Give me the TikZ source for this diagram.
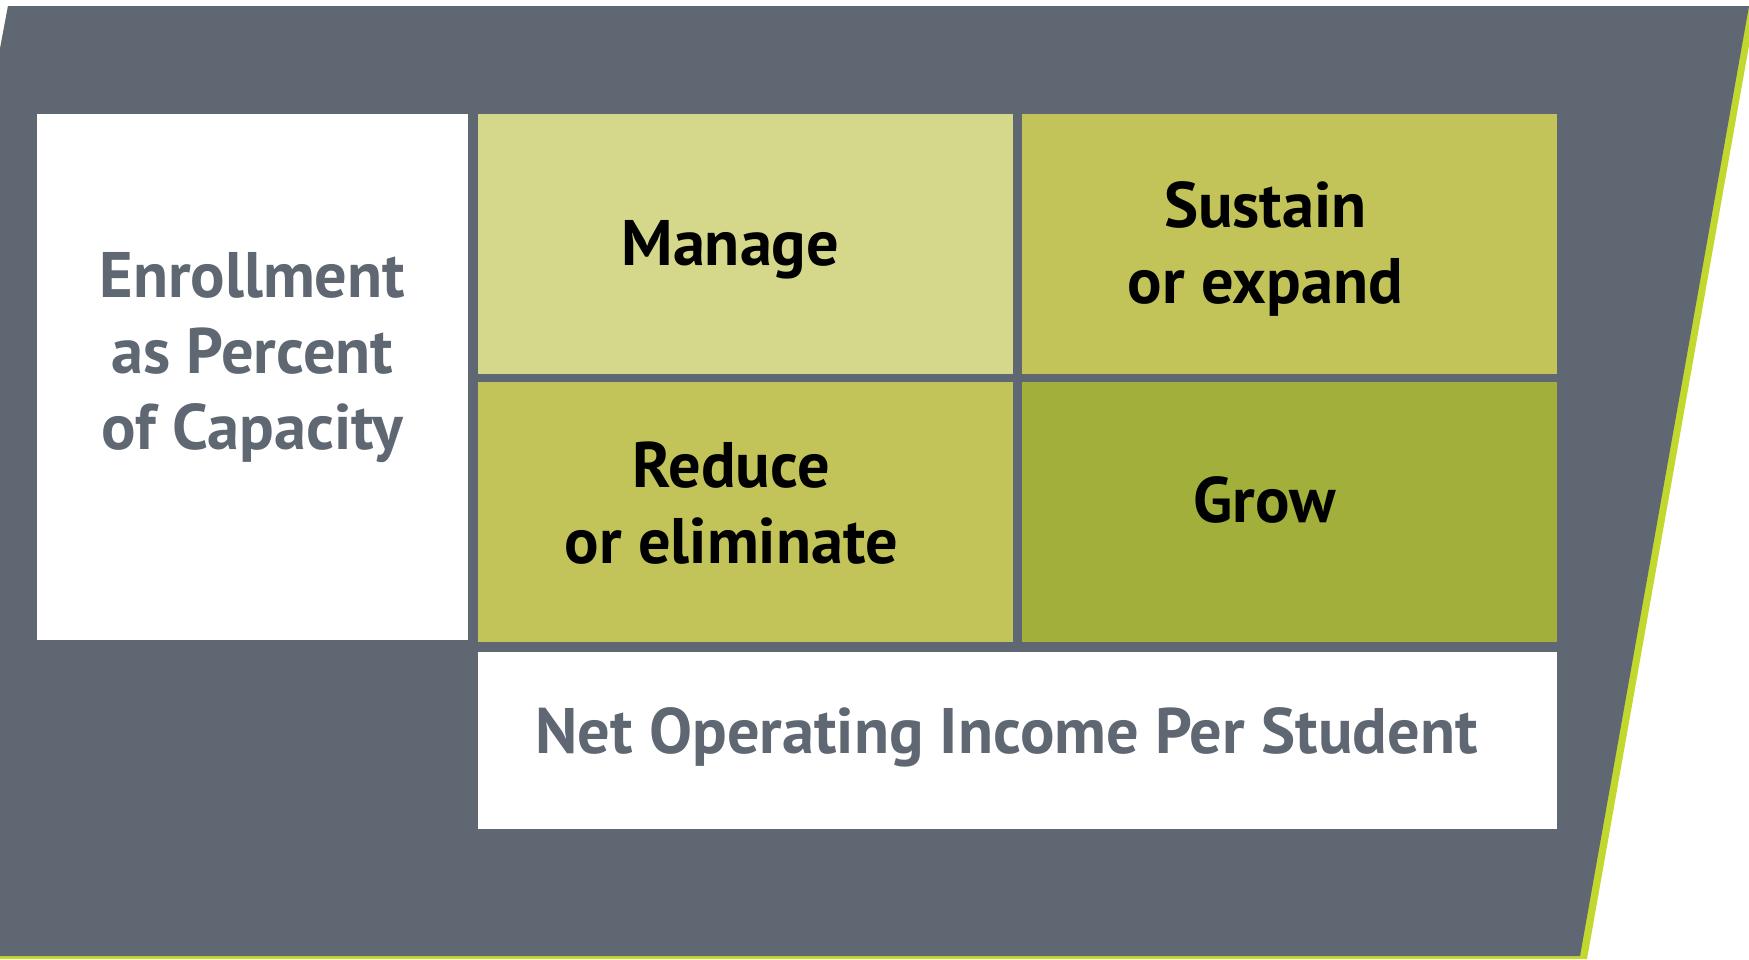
\documentclass[tikz,border=0pt]{standalone}
\usepackage{fontspec}
\setmainfont{PT Sans}
\usetikzlibrary{positioning}

\definecolor{slate}{HTML}{5F6872}
\definecolor{lime}{HTML}{C3D82E}
\definecolor{paleolive}{HTML}{D5D88A}
\definecolor{olive}{HTML}{C2C45A}
\definecolor{darkolive}{HTML}{A2AF3A}

\begin{document}
\begin{tikzpicture}[x=0.01cm, y=-0.01cm,
	cell/.style={rectangle, inner sep=0pt, anchor=north west,
		minimum width=5.35cm, minimum height=2.60cm},
	whitebox/.style={cell, fill=white},
	word/.style={align=center, font=\fontsize{18.3}{21.6}\selectfont\bfseries}]

	\useasboundingbox (0,0) rectangle (1749,959);
	\clip (0,0) rectangle (1749,959);

	% backdrop with lime edge
	\fill[lime] (8,6) -- (1756,6) -- (1587,959) -- (-170,959) -- cycle;
	\fill[slate] (8,6) -- (1749,6) -- (1580,956) -- (-170,956) -- cycle;

	\node[cell, fill=paleolive] (manage) at (477,113) {};
	\node[cell, fill=olive] (sustain) at (1021,113) {};
	\node[cell, fill=olive] (reduce) at (477,381) {};
	\node[cell, fill=darkolive] (grow) at (1021,381) {};
	\node[whitebox, minimum width=4.31cm, minimum height=5.26cm] (enroll) at (36,113) {};
	\node[whitebox, minimum width=10.79cm, minimum height=1.77cm] (income) at (477,651) {};

	\node[word] (managetext) at ([xshift=-0.15cm, yshift=-0.06cm]manage.center) {Manage};
	\node[word] (sustaintext) at ([xshift=-0.24cm, yshift=-0.05cm]sustain.center) {Sustain\\or expand};
	\node[word] (reducetext) at ([xshift=-0.14cm, yshift=0.09cm]reduce.center) {Reduce\\or eliminate};
	\node[word] (growtext) at ([xshift=-0.25cm, yshift=0.12cm]grow.center) {Grow};
	\node[word, text=slate] (enrolltext) at ([yshift=0.19cm]enroll.center) {Enrollment\\as Percent\\of Capacity};
	\node[word, text=slate] (incometext) at ([xshift=-0.11cm, yshift=0.03cm]income.center)
		{Net Operating Income Per Student};

\end{tikzpicture}
\end{document}
